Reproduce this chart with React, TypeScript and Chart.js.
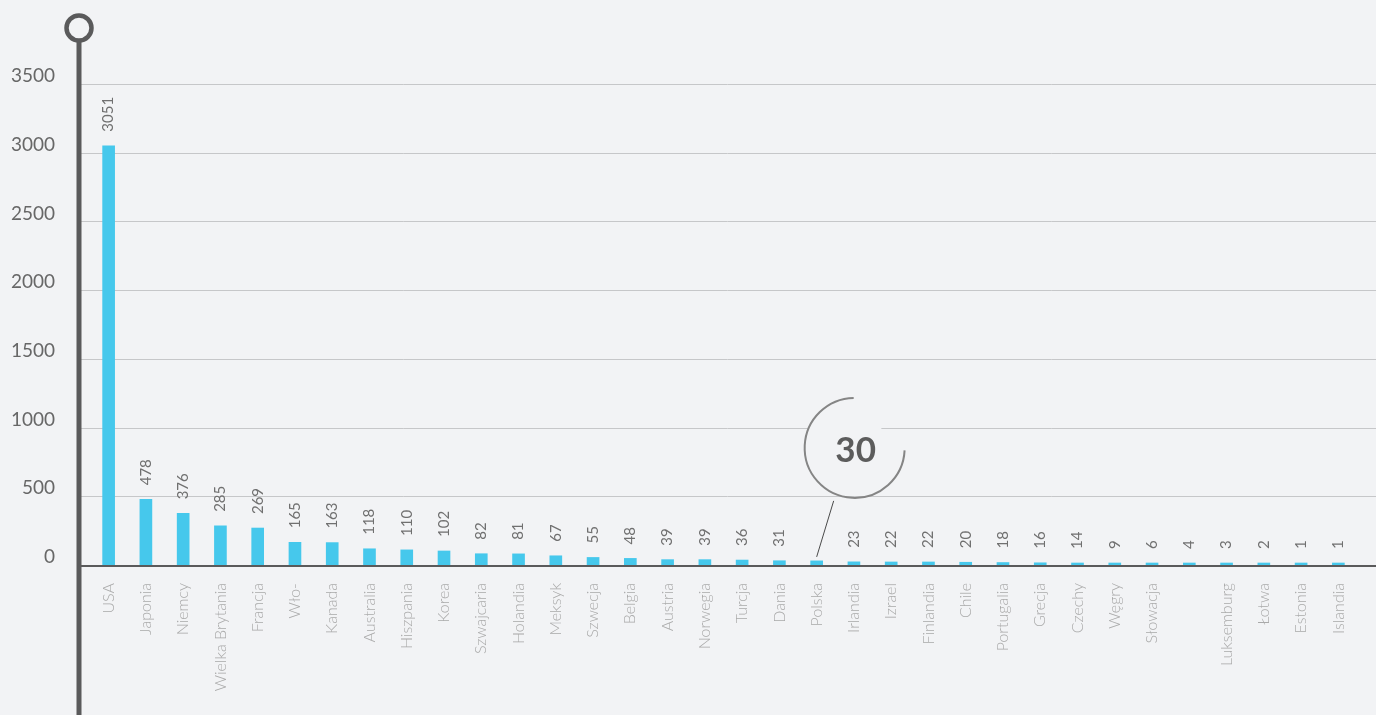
import React, { useEffect, useRef } from 'react';
import { Chart, registerables } from 'chart.js';

Chart.register(...registerables);

const categories: string[] = [
  'USA', 'Japonia', 'Niemcy', 'Wielka Brytania', 'Francja', 'Wło-', 'Kanada', 'Australia',
  'Hiszpania', 'Korea', 'Szwajcaria', 'Holandia', 'Meksyk', 'Szwecja', 'Belgia', 'Austria',
  'Norwegia', 'Turcja', 'Dania', 'Polska', 'Irlandia', 'Izrael', 'Finlandia', 'Chile',
  'Portugalia', 'Grecja', 'Czechy', 'Węgry', 'Słowacja', '', 'Luksemburg', 'Łotwa', 'Estonia', 'Islandia',
];

const values: number[] = [
  3051, 478, 376, 285, 269, 165, 163, 118,
  110, 102, 82, 81, 67, 55, 48, 39,
  39, 36, 31, 30, 23, 22, 22, 20,
  18, 16, 14, 9, 6, 4, 3, 2, 1, 1,
];

const yTickValues: number[] = [0, 500, 1000, 1500, 2000, 2500, 3000, 3500];

const highlightCategory = 'Polska';

const BG = '#f2f3f5';
const BAR = '#46c8ec';
const AXIS = '#5a5a5b';

const decorPlugin = {
  id: 'decor',
  beforeDraw(chart: any) {
    const { ctx, width, height } = chart;
    ctx.save();
    ctx.fillStyle = BG;
    ctx.fillRect(0, 0, width, height);
    ctx.restore();
  },
  beforeDatasetsDraw(chart: any) {
    const { ctx, chartArea, width } = chart;
    const y = chart.scales.y;
    const axisX = chartArea.left - 11;
    ctx.save();
    ctx.strokeStyle = '#c6c7c9';
    ctx.lineWidth = 1;
    yTickValues.forEach((v) => {
      if (v === 0) return;
      const py = Math.round(y.getPixelForValue(v)) + 0.5;
      ctx.beginPath();
      ctx.moveTo(axisX, py);
      ctx.lineTo(width, py);
      ctx.stroke();
    });
    const z = y.getPixelForValue(0);
    ctx.strokeStyle = AXIS;
    ctx.lineWidth = 2;
    ctx.beginPath();
    ctx.moveTo(axisX, z + 1);
    ctx.lineTo(width, z + 1);
    ctx.stroke();
    ctx.restore();
  },
  afterDatasetsDraw(chart: any) {
    const { ctx, chartArea, height } = chart;
    const meta = chart.getDatasetMeta(0);
    const axisX = chartArea.left - 11;

    ctx.save();
    ctx.fillStyle = '#707070';
    ctx.font = '15px Lato, "Open Sans", sans-serif';
    ctx.textAlign = 'left';
    ctx.textBaseline = 'middle';
    meta.data.forEach((bar: any, i: number) => {
      if (categories[i] === highlightCategory) return;
      ctx.save();
      ctx.translate(bar.x, bar.y - 14);
      ctx.rotate(-Math.PI / 2);
      ctx.fillText(String(values[i]), 0, 0);
      ctx.restore();
    });
    ctx.restore();

    ctx.save();
    ctx.strokeStyle = AXIS;
    ctx.lineWidth = 5;
    ctx.beginPath();
    ctx.moveTo(axisX, 41);
    ctx.lineTo(axisX, height);
    ctx.stroke();
    ctx.beginPath();
    ctx.arc(axisX, 28, 12.5, 0, Math.PI * 2);
    ctx.fillStyle = BG;
    ctx.fill();
    ctx.lineWidth = 4.5;
    ctx.stroke();
    ctx.restore();

    const hi = categories.indexOf(highlightCategory);
    if (hi >= 0) {
      const bar: any = meta.data[hi];
      const cx = bar.x + 38;
      const cy = bar.y - 113;
      ctx.save();
      ctx.fillStyle = BG;
      ctx.beginPath();
      ctx.arc(cx - 10, cy - 10, 38, 0, Math.PI * 2);
      ctx.fill();
      ctx.strokeStyle = '#858585';
      ctx.lineWidth = 2;
      ctx.beginPath();
      ctx.arc(cx, cy, 50, 0.05, Math.PI * 1.5 - 0.02, false);
      ctx.stroke();
      ctx.strokeStyle = '#4a4a4a';
      ctx.lineWidth = 1;
      ctx.beginPath();
      ctx.moveTo(bar.x + 17, bar.y - 60);
      ctx.lineTo(bar.x, bar.y - 4);
      ctx.stroke();
      ctx.fillStyle = '#5c5c5c';
      ctx.font = 'bold 35px Lato, "Open Sans", sans-serif';
      ctx.textAlign = 'center';
      ctx.textBaseline = 'middle';
      ctx.fillText(String(values[hi]), cx + 1, cy + 3);
      ctx.restore();
    }
  },
};

export default function App() {
  const canvasRef = useRef<HTMLCanvasElement | null>(null);

  useEffect(() => {
    document.body.style.margin = '0';
    const canvas = canvasRef.current;
    if (!canvas) return;
    const chart = new Chart(canvas, {
      type: 'bar',
      data: {
        labels: categories,
        datasets: [
          {
            data: values,
            backgroundColor: BAR,
            borderWidth: 0,
            barThickness: 12,
            minBarLength: 2,
          },
        ],
      },
      options: {
        animation: false,
        responsive: false,
        maintainAspectRatio: false,
        devicePixelRatio: 1,
        layout: { padding: { top: 84, right: 19, left: 0, bottom: 0 } },
        plugins: {
          legend: { display: false },
          tooltip: { enabled: false },
        },
        scales: {
          x: {
            grid: { display: false, drawTicks: false },
            border: { display: false },
            ticks: {
              autoSkip: false,
              minRotation: 90,
              maxRotation: 90,
              padding: 18,
              color: '#a9a9a9',
              font: { family: 'Lato', size: 16, weight: '300' },
            },
            afterFit: (scale: any) => {
              scale.height = 150;
            },
          },
          y: {
            min: 0,
            max: 3500,
            grid: { display: false, drawTicks: false },
            border: { display: false },
            afterBuildTicks: (scale: any) => {
              scale.ticks = yTickValues.map((v) => ({ value: v }));
            },
            ticks: {
              padding: 35,
              labelOffset: -8,
              color: '#676767',
              font: { family: 'Lato', size: 19 },
              callback: (v: any) => String(v),
            },
            afterFit: (scale: any) => {
              scale.width = 90;
            },
          },
        },
      },
      plugins: [decorPlugin],
    });
    return () => chart.destroy();
  }, []);

  return (
    <div style={{ width: 1376, height: 715, background: BG }}>
      <canvas ref={canvasRef} width={1376} height={715} style={{ display: 'block' }} />
    </div>
  );
}
